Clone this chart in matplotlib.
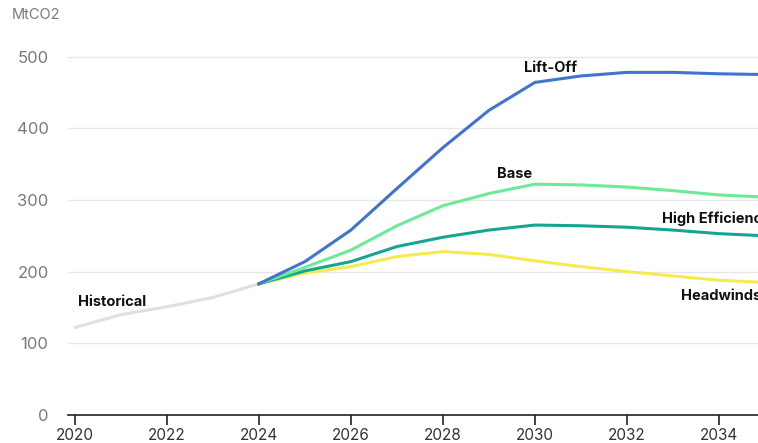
import matplotlib
matplotlib.use("Agg")
import matplotlib.pyplot as plt

# Historical emissions and scenario projections (MtCO2)
hist_years = [2020, 2021, 2022, 2023, 2024]
historical = [122, 140, 151, 164, 183]

proj_years = [2024, 2025, 2026, 2027, 2028, 2029, 2030, 2031, 2032, 2033, 2034, 2035]
lift_off = [183, 214, 258, 316, 373, 425, 464, 473, 478, 478, 476, 475]
base = [183, 206, 230, 264, 292, 309, 322, 321, 318, 313, 307, 304]
high_efficiency = [183, 201, 214, 235, 248, 258, 265, 264, 262, 258, 253, 250]
headwinds = [183, 198, 207, 221, 228, 224, 215, 207, 200, 194, 188, 185]

x_ticks = [2020, 2022, 2024, 2026, 2028, 2030, 2032, 2034]
y_ticks = [0, 100, 200, 300, 400, 500]

plt.rcParams["font.family"] = ["Inter", "DejaVu Sans"]

fig = plt.figure(figsize=(7.58, 4.43), dpi=100)
ax = fig.add_axes([68 / 758, 28 / 443, 690 / 758, 367 / 443])

ax.plot(hist_years, historical, color="#e0e0e0", lw=2.2, solid_capstyle="round")
ax.plot(proj_years, headwinds, color="#f7ea4f", lw=2.2)
ax.plot(proj_years, high_efficiency, color="#15a593", lw=2.2)
ax.plot(proj_years, base, color="#6ee99a", lw=2.2)
ax.plot(proj_years, lift_off, color="#3f74cf", lw=2.2)

# Series labels; the two right-hand ones run past the plot edge
label_kw = dict(fontsize=10.5, fontweight="bold", color="#111111", clip_on=False)
ax.text(2020.06, 158, "Historical", ha="left", va="center", **label_kw)
ax.text(2030.35, 484, "Lift-Off", ha="center", va="center", **label_kw)
ax.text(2029.55, 336, "Base", ha="center", va="center", **label_kw)
ax.text(2032.76, 274, "High Efficiency", ha="left", va="center", **label_kw)
ax.text(2033.17, 166, "Headwinds", ha="left", va="center", **label_kw)

ax.set_xlim(2019.85, 2034.85)
ax.set_ylim(0, 512)
ax.set_xticks(x_ticks)
ax.set_xticklabels([str(t) for t in x_ticks])
ax.set_yticks(y_ticks)

ax.grid(axis="y", color="#e6e6e6", lw=1)
ax.set_axisbelow(True)
for side in ["top", "right", "left"]:
    ax.spines[side].set_visible(False)
ax.spines["bottom"].set_color("#222222")
ax.spines["bottom"].set_linewidth(1.2)
ax.tick_params(axis="x", length=7, width=1.2, color="#222222", labelsize=11,
               labelcolor="#333333", pad=2)
ax.tick_params(axis="y", length=0, labelsize=12, labelcolor="#7a7a7a", pad=14)

fig.text(12 / 758, 1 - 15 / 443, "MtCO2", fontsize=10.5, color="#7a7a7a",
         ha="left", va="center")

fig.savefig("out.png", dpi=100)
